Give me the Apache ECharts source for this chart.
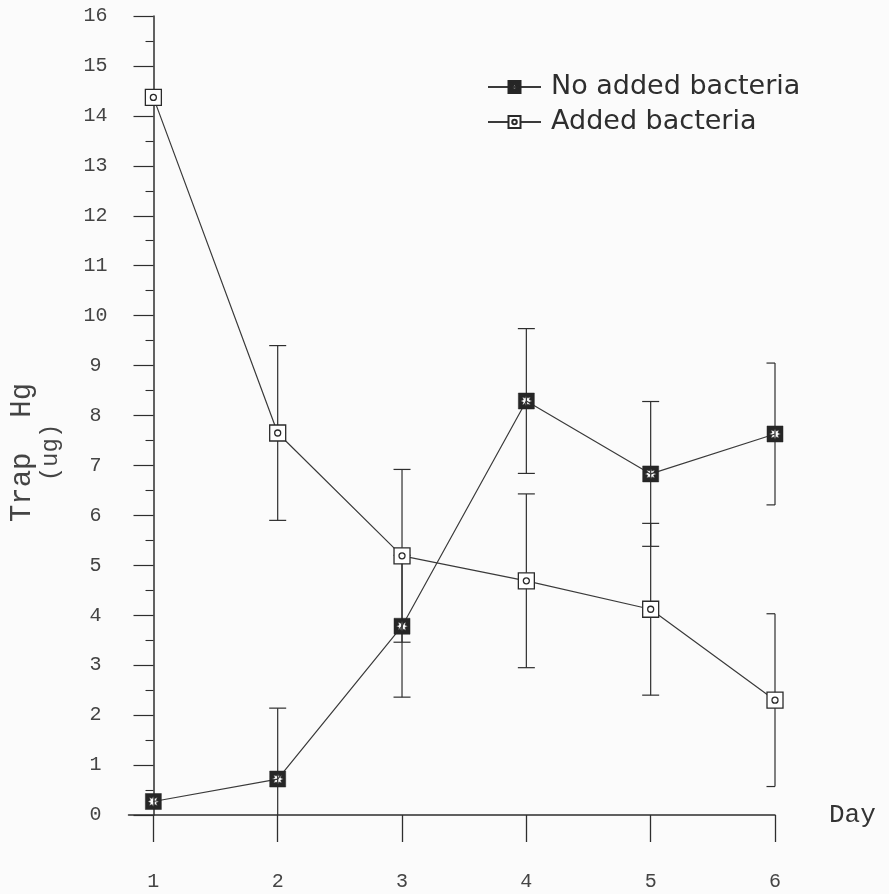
<!DOCTYPE html>
<html>
<head>
<meta charset="utf-8">
<script src="https://cdn.jsdelivr.net/npm/echarts@6/dist/echarts.min.js"></script>
<style>
  html, body { margin: 0; padding: 0; background: #fbfbfb; }
  #chart { width: 889px; height: 894px; }
</style>
</head>
<body>
<div id="chart"></div>
<script>
// Trap Hg per day, mean and half-width of the error bar
const days = [1, 2, 3, 4, 5, 6];
const noAdded    = [0.27, 0.72, 3.78, 8.29, 6.83, 7.63];
const noAddedErr = [null, 1.42, 1.42, 1.45, 1.45, 1.42];
const added      = [14.37, 7.65, 5.19, 4.69, 4.12, 2.30];
const addedErr   = [null, 1.75, 1.73, 1.74, 1.72, 1.73];
const seriesNames = ['No added bacteria', 'Added bacteria'];

const INK = '#2e2e2e';
const MONO = '"Liberation Mono", "Courier New", monospace';

// Dark square with a light star-shaped centre (inner path wound the other way = hole)
function starHoleSquare() {
  let p = 'M0,0L16,0L16,16L0,16Z';
  const pts = [];
  for (let k = 0; k < 16; k++) {
    const a = -k * Math.PI / 8;
    const r = k % 2 === 0 ? 5.6 : 3.2;
    pts.push((8 + r * Math.cos(a)).toFixed(2) + ',' + (8 + r * Math.sin(a)).toFixed(2));
  }
  p += 'M' + pts.join('L') + 'Z';
  return 'path://' + p;
}
// White square with a small ring in the middle
const ringSquare = 'path://M0,0L16,0L16,16L0,16Z M11,8A3,3 0 1 1 5,8A3,3 0 1 1 11,8Z';

function pairs(vals) { return days.map((d, i) => [d, vals[i]]); }
function errData(vals, errs) {
  const out = [];
  days.forEach((d, i) => {
    if (errs[i] != null) out.push([d, vals[i] - errs[i], vals[i] + errs[i]]);
  });
  return out;
}

function errorBarItem(params, api) {
  const x = api.value(0);
  const lo = api.coord([x, api.value(1)]);
  const hi = api.coord([x, api.value(2)]);
  const half = 8.5;
  // caps at the last day only reach inward
  const right = x === days[days.length - 1] ? 0 : half;
  const style = { stroke: INK, lineWidth: 1.2, fill: null };
  return {
    type: 'group',
    children: [
      { type: 'line', shape: { x1: hi[0], y1: hi[1], x2: lo[0], y2: lo[1] }, style },
      { type: 'line', shape: { x1: hi[0] - half, y1: hi[1], x2: hi[0] + right, y2: hi[1] }, style },
      { type: 'line', shape: { x1: lo[0] - half, y1: lo[1], x2: lo[0] + right, y2: lo[1] }, style }
    ]
  };
}

const chart = echarts.init(document.getElementById('chart'), null, { renderer: 'canvas' });

chart.setOption({
  backgroundColor: '#fbfbfb',
  animation: false,
  grid: { left: 126, width: 649, top: 16, bottom: 79, containLabel: false },
  legend: {
    orient: 'vertical',
    left: 482,
    top: 67,
    itemWidth: 53,
    itemHeight: 15,
    itemGap: 5,
    selectedMode: false,
    data: seriesNames,
    textStyle: {
      fontFamily: '"DejaVu Sans", sans-serif', fontSize: 27, lineHeight: 30,
      color: INK, padding: [0, 0, 0, 5]
    }
  },
  xAxis: {
    type: 'value',
    min: 0.8,
    max: 6,
    name: 'Day',
    nameLocation: 'end',
    nameGap: 54,
    nameTextStyle: { fontFamily: MONO, fontSize: 26, color: '#333', verticalAlign: 'middle', padding: [0, 0, 4, 0] },
    axisLine: { show: true, onZero: false, lineStyle: { color: INK, width: 1.5 } },
    axisTick: { show: true, inside: false, length: 27, customValues: days, lineStyle: { color: INK, width: 1.3 } },
    axisLabel: { customValues: days, margin: 57, fontFamily: MONO, fontSize: 20, color: '#444' },
    splitLine: { show: false }
  },
  yAxis: {
    type: 'value',
    min: 0,
    max: 16,
    interval: 1,
    offset: -25,
    name: '{a|Trap  Hg}\n{b|(ug)}',
    nameLocation: 'middle',
    nameRotate: 90,
    nameGap: 89,
    nameTextStyle: {
      color: '#444',
      align: 'center',
      padding: [0, 74, 0, 0],
      rich: {
        a: { fontFamily: MONO, fontSize: 29, lineHeight: 28, color: '#444' },
        b: { fontFamily: MONO, fontSize: 24, lineHeight: 28, color: '#444' }
      }
    },
    axisLine: { show: true, onZero: false, lineStyle: { color: INK, width: 1.5 } },
    axisTick: { show: true, inside: false, length: 20, lineStyle: { color: INK, width: 1.2 } },
    minorTick: { show: true, splitNumber: 2, length: 8, lineStyle: { color: INK, width: 1.1 } },
    axisLabel: { margin: 58, align: 'center', fontFamily: MONO, fontSize: 20, color: '#444' },
    splitLine: { show: false }
  },
  series: [
    {
      name: seriesNames[0] + ' error',
      type: 'custom',
      renderItem: errorBarItem,
      data: errData(noAdded, noAddedErr),
      encode: { x: 0, y: [1, 2] },
      clip: true,
      silent: true,
      z: 1
    },
    {
      name: seriesNames[1] + ' error',
      type: 'custom',
      renderItem: errorBarItem,
      data: errData(added, addedErr),
      encode: { x: 0, y: [1, 2] },
      clip: true,
      silent: true,
      z: 1
    },
    {
      name: seriesNames[0],
      type: 'line',
      data: pairs(noAdded),
      symbol: starHoleSquare(),
      symbolSize: 16,
      lineStyle: { color: '#3a3a3a', width: 1.2 },
      itemStyle: { color: '#262626', borderColor: '#262626', borderWidth: 0.5 },
      emphasis: { disabled: true },
      z: 3
    },
    {
      name: seriesNames[1],
      type: 'line',
      data: pairs(added),
      symbol: ringSquare,
      symbolSize: 16,
      lineStyle: { color: '#3a3a3a', width: 1.2 },
      itemStyle: { color: '#ffffff', borderColor: '#2a2a2a', borderWidth: 1.3 },
      emphasis: { disabled: true },
      z: 3
    }
  ]
});
</script>
</body>
</html>
